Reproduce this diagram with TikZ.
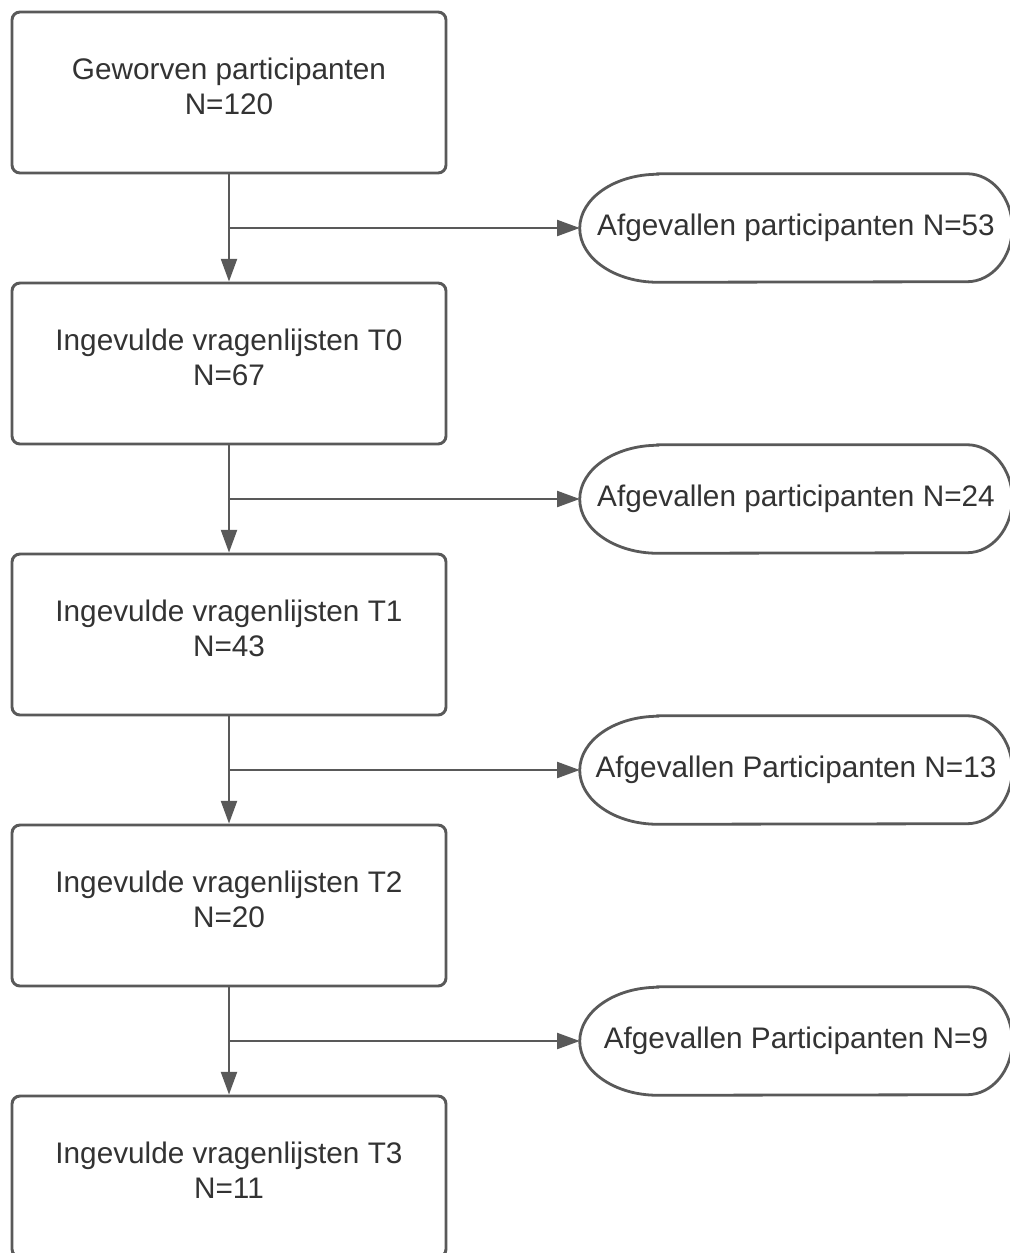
\documentclass[tikz,border=0pt]{standalone}
\usepackage{fontspec}
\setmainfont{Liberation Sans}
\usetikzlibrary{arrows.meta}
\definecolor{ln}{HTML}{595959}
\definecolor{tx}{HTML}{333333}
\begin{document}
\begin{tikzpicture}[x=0.75pt,y=-0.75pt,
  lbl/.style={font=\fontsize{22.3}{26.25}\selectfont, text=tx},
  box/.style={lbl, draw=ln, line width=2.2pt, rounded corners=6pt, fill=white,
    minimum width=325.5pt, minimum height=120.75pt, align=center, text depth=9pt},
  term/.style={lbl, minimum width=324pt, minimum height=81pt, inner sep=0pt},
  termline/.style={draw=ln, line width=2.1pt},
  conn/.style={draw=ln, line width=1.6pt, -{Triangle[length=17pt,width=12pt]}}]
\useasboundingbox (0,0) rectangle (1010,1253);
\clip (0,0) rectangle (1010,1253);
\fill[white] (0,0) rectangle (1010,1253);

\node[box] (b1) at (229,92.5) {Geworven participanten\\N=120};
\node[box] (b2) at (229,363.5) {Ingevulde vragenlijsten T0\\N=67};
\node[box] (b3) at (229,634.5) {Ingevulde vragenlijsten T1\\N=43};
\node[box] (b4) at (229,905.5) {Ingevulde vragenlijsten T2\\N=20};
\node[box] (b5) at (229,1176.5) {Ingevulde vragenlijsten T3\\N=11};

\node[term] (e1) at (796,228) {Afgevallen participanten N=53};
\node[term] (e2) at (796,499) {Afgevallen participanten N=24};
\node[term] (e3) at (796,770) {Afgevallen Participanten N=13};
\node[term] (e4) at (796,1041) {Afgevallen Participanten N=9};

\foreach \e in {e1,e2,e3,e4}{
  \draw[termline] ([xshift=58.5pt]\e.north west) -- ([xshift=-34pt]\e.north east)
    arc[start angle=90,end angle=-90,x radius=34pt,y radius=40.5pt]
    -- ([xshift=58.5pt]\e.south west)
    arc[start angle=270,end angle=90,x radius=58.5pt,y radius=40.5pt] -- cycle;
}

\coordinate (j1) at (229,228);
\coordinate (j2) at (229,499);
\coordinate (j3) at (229,770);
\coordinate (j4) at (229,1041);

\draw[conn] (b1.south) -- (b2.north);
\draw[conn] (b2.south) -- (b3.north);
\draw[conn] (b3.south) -- (b4.north);
\draw[conn] (b4.south) -- (b5.north);

\draw[conn] (j1) -- (e1.west);
\draw[conn] (j2) -- (e2.west);
\draw[conn] (j3) -- (e3.west);
\draw[conn] (j4) -- (e4.west);
\end{tikzpicture}
\end{document}
